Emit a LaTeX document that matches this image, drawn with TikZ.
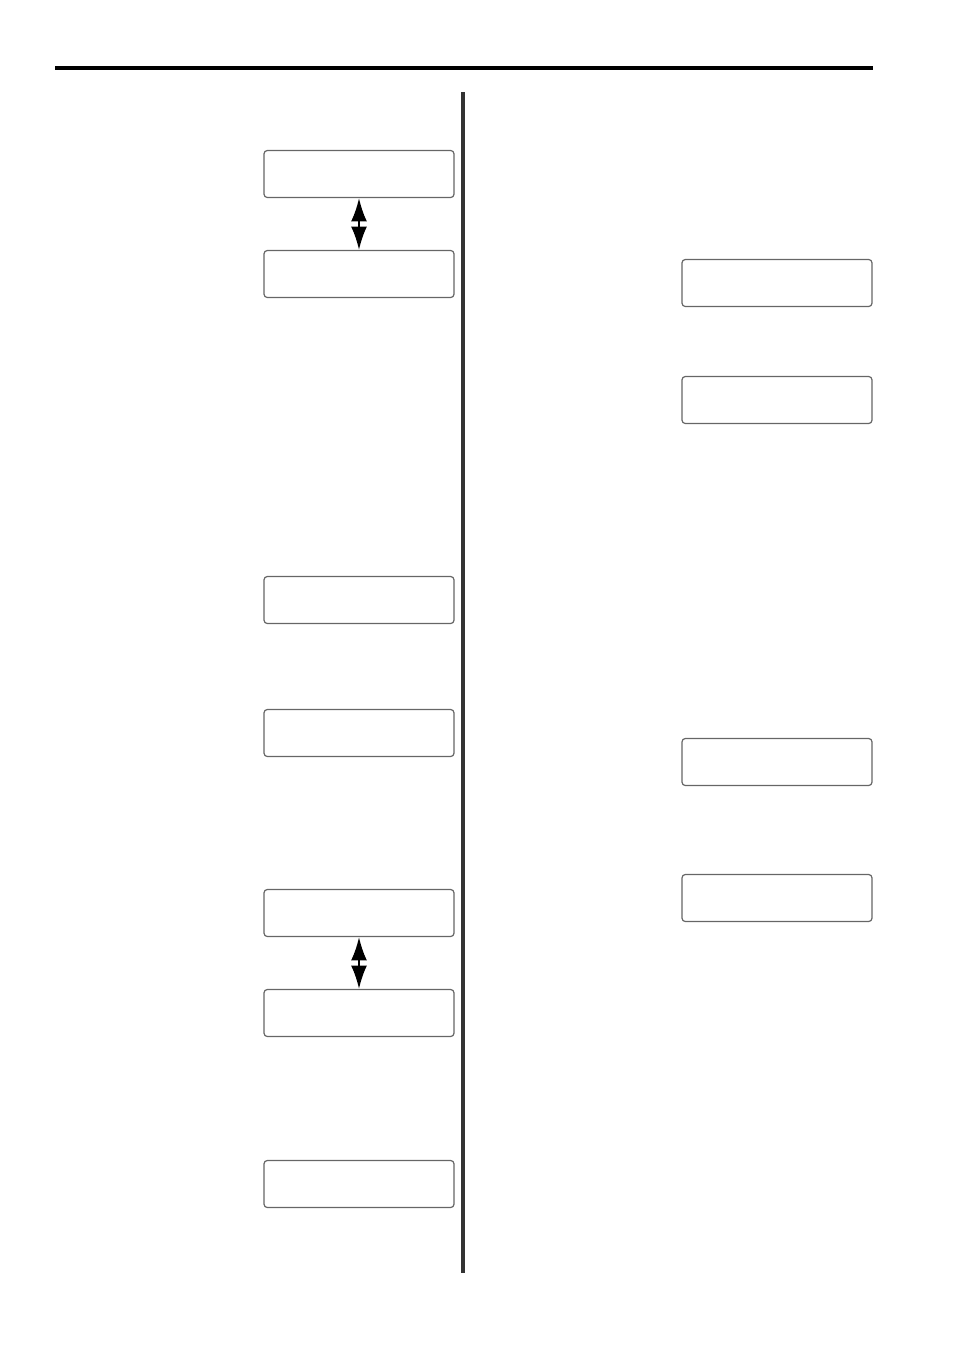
\documentclass[tikz,border=0pt]{standalone}
\usepackage{tikz}
\usetikzlibrary{arrows.meta}
\definecolor{rule}{HTML}{000000}
\definecolor{divider}{HTML}{333333}
\definecolor{lcdframe}{HTML}{666666}

\begin{document}
\begin{tikzpicture}[x=0.75pt,y=-0.75pt,
  lcd/.style={draw=lcdframe,line width=0.9pt,rounded corners=2.5pt,minimum width=142.5pt,minimum height=35.25pt,inner sep=0pt},
  toggle/.style={{Latex[width=12pt,length=17.5pt]}-{Latex[width=12pt,length=17.5pt]},line width=1.5pt}]
\useasboundingbox (0,0) rectangle (954,1350);
\draw[rule,line width=2.4pt] (55,68) -- (873,68);
\draw[divider,line width=2.3pt] (463,92) -- (463,1273);
% left column
\node[lcd] (l1) at (359,174) {};
\node[lcd] (l2) at (359,274) {};
\node[lcd] (l3) at (359,600) {};
\node[lcd] (l4) at (359,733) {};
\node[lcd] (l5) at (359,913) {};
\node[lcd] (l6) at (359,1013) {};
\node[lcd] (l7) at (359,1184) {};
\draw[toggle] (l1.south) -- (l2.north);
\draw[toggle] (l5.south) -- (l6.north);
% right column
\node[lcd] (r1) at (777,283) {};
\node[lcd] (r2) at (777,400) {};
\node[lcd] (r3) at (777,762) {};
\node[lcd] (r4) at (777,898) {};
\end{tikzpicture}
\end{document}
